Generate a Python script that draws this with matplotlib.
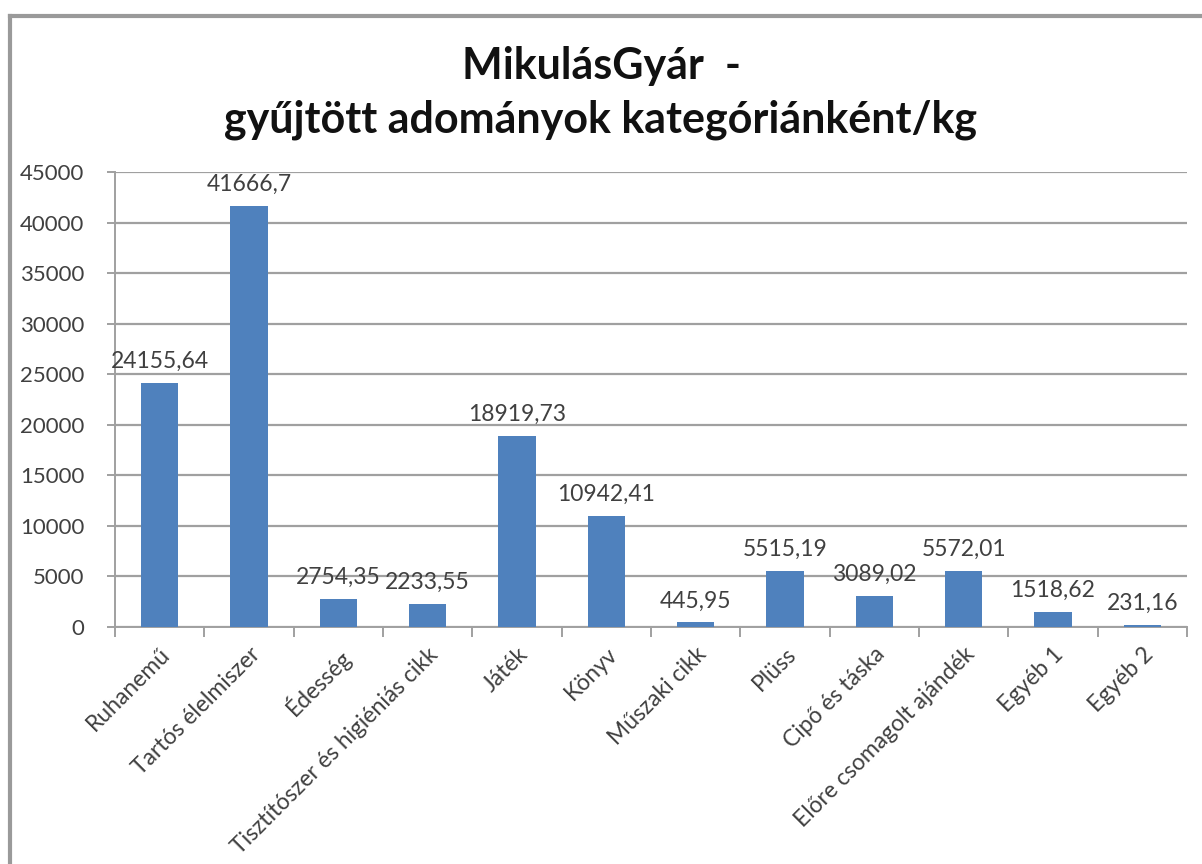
import matplotlib.pyplot as plt
from matplotlib.lines import Line2D

categories = [
    "Ruhanemű", "Tartós élelmiszer", "Édesség", "Tisztítószer és higiéniás cikk",
    "Játék", "Könyv", "Műszaki cikk", "Plüss", "Cipő és táska",
    "Előre csomagolt ajándék", "Egyéb 1", "Egyéb 2",
]
values = [24155.64, 41666.7, 2754.35, 2233.55, 18919.73, 10942.41,
          445.95, 5515.19, 3089.02, 5572.01, 1518.62, 231.16]
yticks = list(range(0, 45001, 5000))

BLUE = "#4F81BD"
GRID = "#A0A0A0"
TEXT = "#404040"
FONT = "Lato"

fig = plt.figure(figsize=(12.02, 8.64), dpi=100)
ax = fig.add_axes([0.0957, 0.2743, 0.8918, 0.5266])

x = list(range(len(categories)))
ax.bar(x, values, width=0.42, color=BLUE, zorder=3)
ax.set_xlim(-0.5, len(categories) - 0.5)
ax.set_ylim(0, 45000)
ax.set_yticks(yticks)
ax.set_yticklabels([str(v) for v in yticks], fontsize=16, color=TEXT, family=FONT)
ax.yaxis.grid(True, color=GRID, linewidth=1.6, zorder=0)

# category boundary ticks on the x axis
ax.set_xticks([i - 0.5 for i in range(len(categories) + 1)])
ax.set_xticklabels([])
ax.tick_params(axis="x", length=7, color=GRID, width=1.4)
ax.tick_params(axis="y", length=6, color=GRID, width=1.4, pad=16)

for i, name in enumerate(categories):
    ax.annotate(name, xy=(i, 0), xytext=(0, -12), textcoords="offset points",
                rotation=45, ha="right", va="top", rotation_mode="anchor",
                fontsize=16.5, color=TEXT, family=FONT)

for i, v in enumerate(values):
    label = f"{v:.2f}".rstrip("0").rstrip(".").replace(".", ",")
    ax.annotate(label, xy=(i, v), xytext=(0, 8), textcoords="offset points",
                ha="center", va="bottom", fontsize=16.5, color=TEXT, family=FONT)

for side in ["top", "right"]:
    ax.spines[side].set_visible(False)
for side in ["left", "bottom"]:
    ax.spines[side].set_color(GRID)
    ax.spines[side].set_linewidth(1.4)

fig.text(0.5, 1 - 66 / 864, "MikulásGyár  -", ha="center", va="center",
         fontsize=31, fontweight="bold", family=FONT, color="#111111")
fig.text(0.5, 1 - 120 / 864, "gyűjtött adományok kategóriánként/kg", ha="center",
         va="center", fontsize=31, fontweight="bold", family=FONT, color="#111111")

# chart frame (top and left edges visible in the crop)
fig.add_artist(Line2D([10 / 1202, 1], [1 - 16 / 864, 1 - 16 / 864],
                      transform=fig.transFigure, color="#9A9A9A", linewidth=3))
fig.add_artist(Line2D([10 / 1202, 10 / 1202], [0, 1 - 16 / 864],
                      transform=fig.transFigure, color="#9A9A9A", linewidth=3))

fig.savefig("out.png", dpi=100)
